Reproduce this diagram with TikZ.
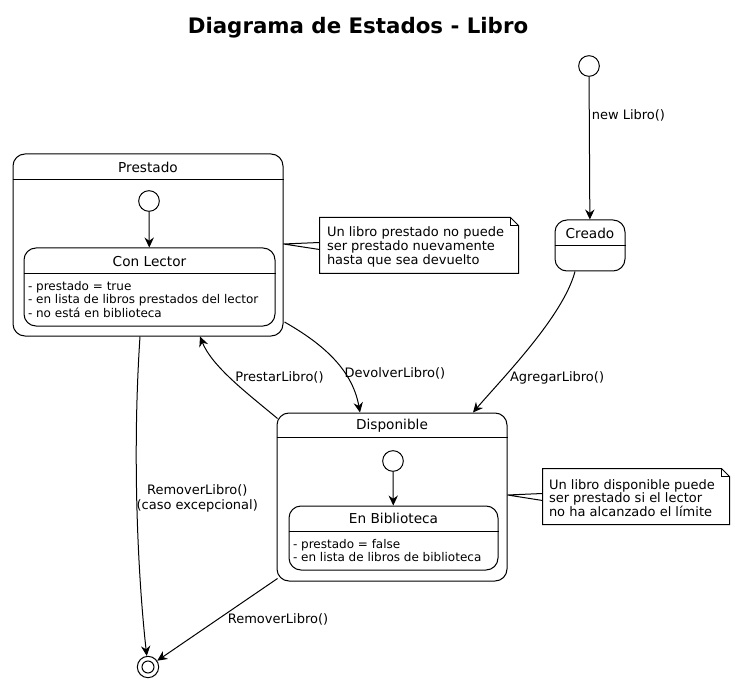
\documentclass[tikz,border=0pt]{standalone}
\usepackage{fontspec}
\setmainfont{DejaVu Sans}
\usetikzlibrary{arrows.meta,calc,fit}

\tikzset{
  stbox/.style={draw, rounded corners=9pt, inner sep=0pt},
  stname/.style={font=\fontsize{10.25}{12}\selectfont},
  attr/.style={font=\fontsize{9}{10.4}\selectfont, align=left, inner sep=0pt, anchor=north west},
  initst/.style={circle, draw, minimum size=15.5pt, inner sep=0pt},
  lbl/.style={font=\fontsize{9.75}{10.8}\selectfont, inner sep=1.5pt},
  notebox/.style={inner sep=0pt},
  notetxt/.style={font=\fontsize{9.75}{10.2}\selectfont, align=left, inner sep=0pt, anchor=west},
  arr/.style={-{Stealth[length=7.5pt,width=7pt,inset=2.5pt]}},
}

\begin{document}
\begin{tikzpicture}[x=0.75pt,y=-0.75pt,line width=0.75pt]
  \useasboundingbox (0,0) rectangle (735,684);

  \node[font=\bfseries\fontsize{16}{19}\selectfont] (title) at (358,28) {Diagrama de Estados - Libro};

  % Creado
  \node[initst] (inicio) at (589,66) {};
  \node[stbox, fit={(555,220) (625,271)}] (creado) {};
  \draw ($(creado.north west)+(0,26)$) -- ($(creado.north east)+(0,26)$);
  \node[stname] at ($(creado.north)+(0,14)$) {Creado};

  % Prestado
  \node[stbox, fit={(13,154) (283,336)}] (prestado) {};
  \draw ($(prestado.north west)+(0,26)$) -- ($(prestado.north east)+(0,26)$);
  \node[stname] at ($(prestado.north)+(0,14)$) {Prestado};
  \node[initst] (iniPres) at (149,201) {};
  \node[stbox, fit={(24,248) (275,326)}] (conLector) {};
  \draw ($(conLector.north west)+(0,26)$) -- ($(conLector.north east)+(0,26)$);
  \node[stname] at ($(conLector.north)+(0,14)$) {Con Lector};
  \node[attr] at ($(conLector.north west)+(4,33)$) {- prestado = true\\- en lista de libros prestados del lector\\- no está en biblioteca};
  \draw[arr] (iniPres) -- (conLector);

  % Disponible
  \node[stbox, fit={(277,413) (507,581)}] (dispo) {};
  \draw ($(dispo.north west)+(0,25)$) -- ($(dispo.north east)+(0,25)$);
  \node[stname] at ($(dispo.north)+(0,13)$) {Disponible};
  \node[initst] (iniDisp) at (393,461) {};
  \node[stbox, fit={(289,506) (498,570)}] (enBib) {};
  \draw ($(enBib.north west)+(0,26)$) -- ($(enBib.north east)+(0,26)$);
  \node[stname] at ($(enBib.north)+(0,13)$) {En Biblioteca};
  \node[attr] at ($(enBib.north west)+(4,33)$) {- prestado = false\\- en lista de libros de biblioteca};
  \draw[arr] (iniDisp) -- (enBib);

  % final
  \node[circle, draw, minimum size=16pt, inner sep=0pt] (fin) at (148,667) {};
  \node[circle, draw, minimum size=9pt, inner sep=0pt] (finIn) at (fin) {};

  % notas
  \node[notebox, fit={(320,218) (518,273)}] (notaPres) {};
  \draw (notaPres.north west) -- ($(notaPres.north east)+(-8,0)$) -- ($(notaPres.north east)+(0,8)$) |- (notaPres.south west) -- cycle;
  \draw ($(notaPres.north east)+(-8,0)$) |- ($(notaPres.north east)+(0,8)$);
  \node[notetxt] at ($(notaPres.west)+(7,1.5)$) {Un libro prestado no puede\\ser prestado nuevamente\\hasta que sea devuelto};
  \draw ($(notaPres.west)+(0,-3)$) -- ($(prestado.east)+(0,-1)$) -- ($(notaPres.west)+(0,4)$);

  \node[notebox, fit={(543,469) (729,524)}] (notaDisp) {};
  \draw (notaDisp.north west) -- ($(notaDisp.north east)+(-8,0)$) -- ($(notaDisp.north east)+(0,8)$) |- (notaDisp.south west) -- cycle;
  \draw ($(notaDisp.north east)+(-8,0)$) |- ($(notaDisp.north east)+(0,8)$);
  \node[notetxt] at ($(notaDisp.west)+(6,1.5)$) {Un libro disponible puede\\ser prestado si el lector\\no ha alcanzado el límite};
  \draw ($(notaDisp.west)+(0,-3)$) -- ($(dispo.east)+(0,-2)$) -- ($(notaDisp.west)+(0,4)$);

  % transiciones
  \draw[arr] (inicio) -- (creado) node[lbl, pos=.27, anchor=west] {new Libro()};
  \draw[arr] ($(creado.south)+(-15,0)$) .. controls +(-12,45) and +(30,-35) .. ($(dispo.north)+(81,0)$)
    node[lbl, pos=.72, anchor=west, xshift=3pt] {AgregarLibro()};
  \draw[arr] ($(prestado.east)+(1,77)$) .. controls +(35,20) and +(-8,-45) .. ($(dispo.north)+(-32,0)$)
    node[lbl, pos=.67, anchor=west, xshift=-2pt] {DevolverLibro()};
  \draw[arr] ($(dispo.north west)+(1,6)$) .. controls +(-30,-25) and +(12,30) .. ($(prestado.south)+(52,0)$)
    node[lbl, pos=.52, anchor=west, xshift=2pt] {PrestarLibro()};
  \draw[arr] ($(prestado.south)+(-8,0)$) .. controls +(-8,120) and +(-10,-90) .. (fin)
    node[lbl, pos=.46, anchor=west, align=center, xshift=-2pt] {RemoverLibro()\\(caso excepcional)};
  \draw[arr] ($(dispo.south west)+(1,-3)$) -- (fin) node[lbl, pos=.5, anchor=west, xshift=6pt] {RemoverLibro()};
\end{tikzpicture}
\end{document}
